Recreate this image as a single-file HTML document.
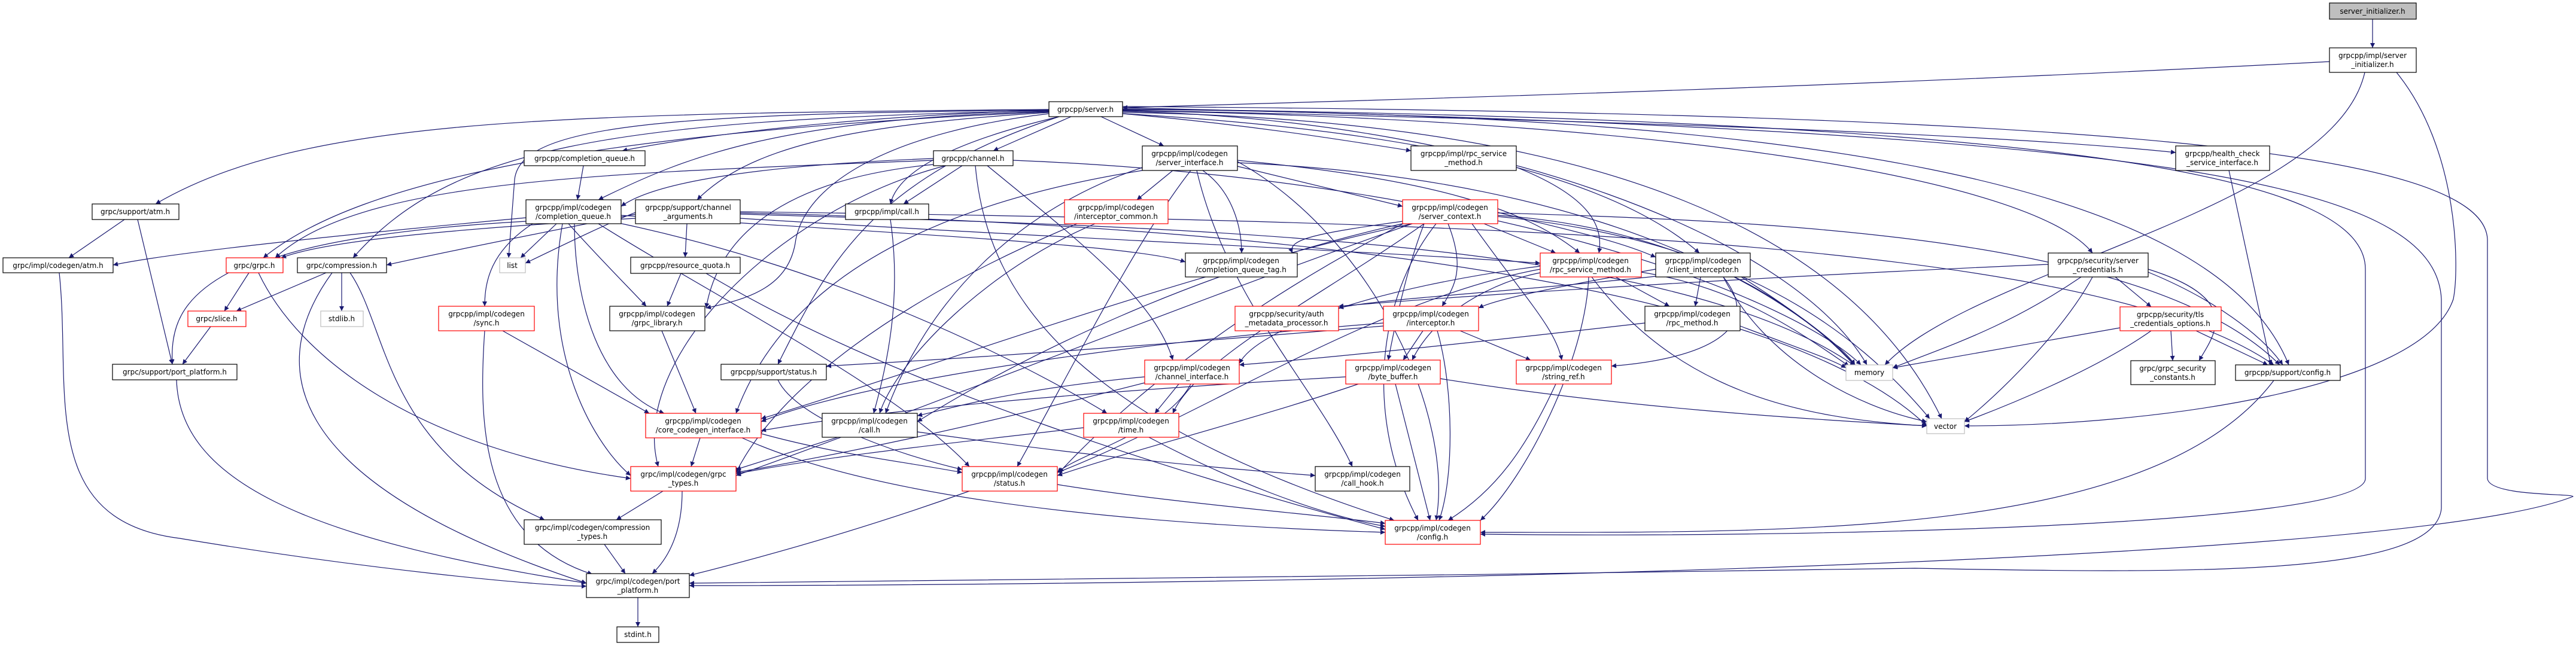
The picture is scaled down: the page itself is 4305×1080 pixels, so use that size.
<!DOCTYPE html>
<html><head><meta charset="utf-8"><style>
html,body{margin:0;padding:0;background:#fff}
svg{display:block}
text{font-family:"DejaVu Sans","Liberation Sans",sans-serif;font-size:12px;fill:#000;text-anchor:middle}
.e path{fill:none;stroke:#191970;stroke-width:1.2;marker-end:url(#a)}
.n rect{fill:#fff;stroke:#000;stroke-width:1.2}
.n rect.r{stroke:#ff0000}
.n rect.g{stroke:#bfbfbf}
</style></head><body>
<svg width="4305" height="1080" viewBox="0 0 4305 1080" xmlns="http://www.w3.org/2000/svg">
<defs><marker id="a" viewBox="0 0 10 10" refX="10" refY="5" markerWidth="10" markerHeight="8" markerUnits="userSpaceOnUse" orient="auto"><path d="M0 0 L10 5 L0 10 z" fill="#191970"/></marker></defs>
<g class="e">
<path d="M3965 32 L3965 80"/>
<path d="M3893 103 C3000 150,2200 170,1876 180"/>
<path d="M3952 121 C3900 350,3300 450,3150 610"/>
<path d="M4005 121 C4110 250,4110 450,4100 500 C4050 650,3600 712,3283 712"/>
<path d="M1876 178 C3500 190,4150 250,4157 400 L4157 800 C4160 830,4300 825,4300 830 C4000 950,2000 979,1152 979"/>
<path d="M1876 182 C3500 200,3953 300,3953 450 L3953 800 C3953 880,3000 900,2474 893"/>
<path d="M1876 180 C3600 220,4070 300,4080 500 L4080 850 C4070 960,3700 960,3200 950 C2500 960,1500 975,1152 975"/>
<path d="M1753 184 C1400 195,1150 230,1040 252"/>
<path d="M1790 195 L1660 252"/>
<path d="M1840 195 L1945 244"/>
<path d="M1876 190 C2100 210,2250 235,2358 252"/>
<path d="M1876 184 C2600 200,3300 220,3636 255"/>
<path d="M1753 183 C900 190,500 200,260 341"/>
<path d="M1753 186 C1300 200,1150 260,1000 334"/>
<path d="M1753 188 C1400 210,1250 250,1165 334"/>
<path d="M1770 195 C1580 240,1500 290,1488 341"/>
<path d="M1753 185 C1000 200,750 250,590 431"/>
<path d="M1753 184 C1100 190,870 210,860 300 L850 431"/>
<path d="M1753 190 C1500 220,1350 300,1330 400 C1320 480,1250 500,1180 515"/>
<path d="M1770 195 C1450 300,1380 450,1300 609"/>
<path d="M1876 186 C2500 200,3000 400,3120 610"/>
<path d="M1876 188 C2700 200,3100 400,3245 700"/>
<path d="M1876 185 C2800 200,3400 300,3497 423"/>
<path d="M1876 183 C3000 190,3700 300,3825 610"/>
<path d="M1876 190 C2400 220,2700 300,2840 423"/>
<path d="M1753 187 C1000 220,600 300,440 431"/>
<path d="M975 277 L965 334"/>
<path d="M1560 265 C1300 275,1100 300,1038 345"/>
<path d="M1560 268 C1000 290,600 300,460 431"/>
<path d="M1608 277 L1510 341"/>
<path d="M1560 275 C1300 300,1200 400,1180 515"/>
<path d="M1650 277 C1800 400,1930 500,1960 602"/>
<path d="M1693 268 C2500 300,3000 500,3110 610"/>
<path d="M1630 277 C1650 500,1800 700,2330 870"/>
<path d="M1580 277 C1300 350,1050 600,1100 780"/>
<path d="M1960 285 L1900 334"/>
<path d="M2068 278 L2344 345"/>
<path d="M2010 285 C2060 320,2075 380,2075 423"/>
<path d="M2068 268 C2400 300,2550 350,2640 423"/>
<path d="M1909 280 C1700 350,1550 500,1480 691"/>
<path d="M1909 285 C1500 350,1300 500,1230 691"/>
<path d="M1990 285 C1900 400,1800 600,1700 780"/>
<path d="M2000 285 C2050 500,2200 650,2260 780"/>
<path d="M2068 270 C2300 400,2430 700,2400 870"/>
<path d="M2068 272 C2700 300,3000 500,3100 610"/>
<path d="M879 364 C600 390,300 420,189 443"/>
<path d="M879 370 C700 380,550 400,460 431"/>
<path d="M930 374 L870 431"/>
<path d="M890 374 C820 420,810 470,810 512"/>
<path d="M950 374 C1000 430,1050 480,1080 512"/>
<path d="M960 374 C960 500,1000 650,1110 691"/>
<path d="M1000 374 C1200 500,1500 650,1620 780"/>
<path d="M1030 372 C1400 450,1700 600,1850 691"/>
<path d="M940 374 C900 600,1000 750,1054 795"/>
<path d="M1038 360 C1500 390,1900 410,1981 438"/>
<path d="M1062 355 C1000 380,920 420,878 440"/>
<path d="M1062 358 C900 390,750 420,646 443"/>
<path d="M1148 374 L1145 430"/>
<path d="M1062 365 C800 380,550 400,470 431"/>
<path d="M1237 358 C2000 380,2800 400,3100 612"/>
<path d="M1237 356 C2300 380,3000 500,3220 712"/>
<path d="M1237 354 C2500 370,3500 400,3800 610"/>
<path d="M1237 365 C1800 400,2300 420,2574 440"/>
<path d="M1138 457 L1115 512"/>
<path d="M1180 457 C1500 650,2000 800,2315 885"/>
<path d="M416 456 L375 520"/>
<path d="M382 456 C300 500,285 550,288 609"/>
<path d="M432 456 C500 600,700 750,1054 800"/>
<path d="M545 456 L395 520"/>
<path d="M571 456 L571 520"/>
<path d="M555 456 C450 600,450 800,980 975"/>
<path d="M585 456 C650 550,640 750,910 869"/>
<path d="M352 546 L305 609"/>
<path d="M208 367 L115 431"/>
<path d="M230 367 L288 609"/>
<path d="M99 456 C120 650,60 870,300 900 C600 950,900 980,980 980"/>
<path d="M295 635 C300 800,500 900,980 975"/>
<path d="M1106 553 L1163 691"/>
<path d="M840 553 L1085 691"/>
<path d="M810 553 C800 700,800 900,990 960"/>
<path d="M1488 367 C1500 450,1500 550,1460 691"/>
<path d="M1830 374 C1650 450,1500 600,1470 691"/>
<path d="M1800 374 C1500 500,1300 650,1230 790"/>
<path d="M2344 370 C2200 390,2150 400,2160 423"/>
<path d="M2480 374 L2600 423"/>
<path d="M2503 355 C2600 380,2700 400,2767 430"/>
<path d="M2420 374 C2450 450,2430 480,2410 512"/>
<path d="M2460 374 C2550 500,2600 550,2610 602"/>
<path d="M2344 374 C2000 450,1700 600,1533 705"/>
<path d="M2345 374 C2100 500,1900 650,1770 790"/>
<path d="M2400 374 C2300 500,2280 700,2370 870"/>
<path d="M2360 374 C2000 500,1500 700,1230 795"/>
<path d="M2360 374 C2000 450,1600 600,1272 700"/>
<path d="M2380 374 C2200 500,2000 600,1960 691"/>
<path d="M2503 360 C2800 380,3000 500,3100 612"/>
<path d="M2503 362 C2900 400,3100 550,3225 700"/>
<path d="M2503 356 C3000 370,3600 400,3810 610"/>
<path d="M2380 374 C2350 450,2330 550,2320 602"/>
<path d="M2535 280 C2660 330,2680 380,2672 423"/>
<path d="M2700 463 L2790 512"/>
<path d="M2574 456 C2500 470,2400 520,2360 602"/>
<path d="M2655 463 C2650 600,2550 800,2474 870"/>
<path d="M2743 455 C2900 480,3000 550,3090 612"/>
<path d="M2660 463 C2800 650,3000 700,3220 712"/>
<path d="M2574 450 C2300 500,2000 700,1767 790"/>
<path d="M2574 445 C2300 480,2100 550,2071 608"/>
<path d="M2767 450 C2600 480,2500 500,2471 515"/>
<path d="M2842 463 L2833 512"/>
<path d="M2880 463 C2950 550,2850 600,2693 612"/>
<path d="M2910 463 C3000 520,3080 580,3100 610"/>
<path d="M2880 463 C2950 600,3100 680,3220 705"/>
<path d="M2767 462 C2500 490,2300 500,2237 515"/>
<path d="M3423 442 C3000 460,2500 490,2237 512"/>
<path d="M2378 553 L2345 602"/>
<path d="M2440 553 L2558 602"/>
<path d="M2402 553 C2430 650,2430 800,2405 870"/>
<path d="M2312 540 C1800 580,1400 650,1272 705"/>
<path d="M2312 545 C1900 580,1600 600,1381 612"/>
<path d="M2749 540 C2400 580,2200 600,2071 610"/>
<path d="M2908 545 C3000 580,3060 600,3085 615"/>
<path d="M2270 642 C2100 700,1900 750,1767 795"/>
<path d="M2332 642 L2390 870"/>
<path d="M2407 633 C2700 680,3000 700,3220 712"/>
<path d="M2249 630 C1900 650,1500 680,1272 720"/>
<path d="M2600 642 C2550 750,2500 820,2420 870"/>
<path d="M1913 630 C1700 650,1600 680,1533 695"/>
<path d="M1970 642 L1930 691"/>
<path d="M1990 642 C1950 720,1800 760,1767 790"/>
<path d="M1913 640 C1600 720,1400 760,1230 790"/>
<path d="M1170 732 L1155 780"/>
<path d="M1272 725 C1400 760,1500 770,1608 790"/>
<path d="M1240 732 C1500 850,2000 880,2315 890"/>
<path d="M1400 731 L1230 785"/>
<path d="M1533 722 C1800 760,2000 780,2198 795"/>
<path d="M1811 715 C1600 740,1400 760,1230 792"/>
<path d="M1920 731 C2050 800,2200 860,2315 880"/>
<path d="M1108 821 L1030 869"/>
<path d="M1140 821 C1140 900,1110 940,1090 959"/>
<path d="M1620 821 C1400 900,1200 950,1152 962"/>
<path d="M1767 810 C1950 840,2200 860,2315 875"/>
<path d="M1300 635 C1330 700,1500 760,1608 785"/>
<path d="M1010 910 L1045 959"/>
<path d="M1066 999 L1066 1048"/>
<path d="M3725 285 L3795 610"/>
<path d="M3800 636 C3600 900,3000 890,2474 890"/>
<path d="M3478 463 C3350 550,3250 580,3163 615"/>
<path d="M3497 463 C3450 550,3350 650,3283 705"/>
<path d="M3535 463 L3595 513"/>
<path d="M3590 450 C3750 500,3700 560,3675 603"/>
<path d="M3590 455 C3700 500,3780 560,3815 610"/>
<path d="M3543 548 L3163 615"/>
<path d="M3595 553 C3500 620,3350 680,3283 705"/>
<path d="M3628 553 L3631 603"/>
<path d="M3670 553 L3790 610"/>
</g>
<g class="n">
<rect x="3893" y="5" width="145" height="27" style="fill:#bfbfbf"/><text x="3965" y="23">server_initializer.h</text>
<rect x="3893" y="80" width="145" height="41"/><text x="3965" y="97">grpcpp/impl/server</text><text x="3965" y="112">_initializer.h</text>
<rect x="1753" y="170" width="123" height="25"/><text x="1814" y="187">grpcpp/server.h</text>
<rect x="876" y="252" width="202" height="25"/><text x="977" y="269">grpcpp/completion_queue.h</text>
<rect x="1560" y="252" width="133" height="25"/><text x="1626" y="269">grpcpp/channel.h</text>
<rect x="1909" y="244" width="159" height="41"/><text x="1988" y="261">grpcpp/impl/codegen</text><text x="1988" y="276">/server_interface.h</text>
<rect x="2358" y="244" width="176" height="41"/><text x="2446" y="261">grpcpp/impl/rpc_service</text><text x="2446" y="276">_method.h</text>
<rect x="3636" y="244" width="157" height="41"/><text x="3714" y="261">grpcpp/health_check</text><text x="3714" y="276">_service_interface.h</text>
<rect x="154" y="341" width="145" height="26"/><text x="226" y="358">grpc/support/atm.h</text>
<rect x="879" y="334" width="159" height="40"/><text x="958" y="351">grpcpp/impl/codegen</text><text x="958" y="366">/completion_queue.h</text>
<rect x="1062" y="334" width="175" height="40"/><text x="1150" y="351">grpcpp/support/channel</text><text x="1150" y="366">_arguments.h</text>
<rect x="1413" y="341" width="139" height="26"/><text x="1482" y="358">grpcpp/impl/call.h</text>
<rect class="r" x="1779" y="334" width="173" height="40"/><text x="1865" y="351">grpcpp/impl/codegen</text><text x="1865" y="366">/interceptor_common.h</text>
<rect class="r" x="2344" y="334" width="159" height="40"/><text x="2423" y="351">grpcpp/impl/codegen</text><text x="2423" y="366">/server_context.h</text>
<rect x="1981" y="423" width="187" height="40"/><text x="2074" y="440">grpcpp/impl/codegen</text><text x="2074" y="455">/completion_queue_tag.h</text>
<rect class="r" x="2574" y="423" width="169" height="40"/><text x="2658" y="440">grpcpp/impl/codegen</text><text x="2658" y="455">/rpc_service_method.h</text>
<rect x="2767" y="423" width="158" height="40"/><text x="2846" y="440">grpcpp/impl/codegen</text><text x="2846" y="455">/client_interceptor.h</text>
<rect x="3423" y="423" width="167" height="40"/><text x="3506" y="440">grpcpp/security/server</text><text x="3506" y="455">_credentials.h</text>
<rect x="5" y="431" width="184" height="25"/><text x="97" y="448">grpc/impl/codegen/atm.h</text>
<rect class="r" x="378" y="431" width="95" height="25"/><text x="425" y="448">grpc/grpc.h</text>
<rect x="497" y="431" width="149" height="25"/><text x="571" y="448">grpc/compression.h</text>
<rect class="g" x="835" y="431" width="43" height="25"/><text x="856" y="448">list</text>
<rect x="1054" y="430" width="183" height="27"/><text x="1145" y="448">grpcpp/resource_quota.h</text>
<rect class="r" x="314" y="520" width="97" height="26"/><text x="362" y="537">grpc/slice.h</text>
<rect class="g" x="536" y="520" width="71" height="26"/><text x="571" y="537">stdlib.h</text>
<rect class="r" x="733" y="512" width="160" height="41"/><text x="813" y="529">grpcpp/impl/codegen</text><text x="813" y="544">/sync.h</text>
<rect x="1019" y="512" width="159" height="41"/><text x="1098" y="529">grpcpp/impl/codegen</text><text x="1098" y="544">/grpc_library.h</text>
<rect class="r" x="2064" y="512" width="173" height="41"/><text x="2150" y="529">grpcpp/security/auth</text><text x="2150" y="544">_metadata_processor.h</text>
<rect class="r" x="2312" y="512" width="159" height="41"/><text x="2391" y="529">grpcpp/impl/codegen</text><text x="2391" y="544">/interceptor.h</text>
<rect x="2749" y="512" width="159" height="41"/><text x="2828" y="529">grpcpp/impl/codegen</text><text x="2828" y="544">/rpc_method.h</text>
<rect class="r" x="3543" y="513" width="169" height="40"/><text x="3627" y="530">grpcpp/security/tls</text><text x="3627" y="545">_credentials_options.h</text>
<rect x="188" y="609" width="208" height="26"/><text x="292" y="626">grpc/support/port_platform.h</text>
<rect x="1205" y="609" width="176" height="26"/><text x="1293" y="626">grpcpp/support/status.h</text>
<rect class="r" x="1913" y="602" width="158" height="40"/><text x="1992" y="619">grpcpp/impl/codegen</text><text x="1992" y="634">/channel_interface.h</text>
<rect class="r" x="2249" y="602" width="158" height="40"/><text x="2328" y="619">grpcpp/impl/codegen</text><text x="2328" y="634">/byte_buffer.h</text>
<rect class="r" x="2534" y="602" width="159" height="40"/><text x="2613" y="619">grpcpp/impl/codegen</text><text x="2613" y="634">/string_ref.h</text>
<rect class="g" x="3085" y="610" width="78" height="26"/><text x="3124" y="627">memory</text>
<rect x="3561" y="603" width="141" height="40"/><text x="3631" y="620">grpc/grpc_security</text><text x="3631" y="635">_constants.h</text>
<rect x="3736" y="610" width="175" height="26"/><text x="3823" y="627">grpcpp/support/config.h</text>
<rect class="r" x="1079" y="691" width="193" height="41"/><text x="1175" y="708">grpcpp/impl/codegen</text><text x="1175" y="723">/core_codegen_interface.h</text>
<rect x="1374" y="691" width="159" height="40"/><text x="1453" y="708">grpcpp/impl/codegen</text><text x="1453" y="723">/call.h</text>
<rect class="r" x="1811" y="691" width="159" height="40"/><text x="1890" y="708">grpcpp/impl/codegen</text><text x="1890" y="723">/time.h</text>
<rect class="g" x="3220" y="700" width="63" height="25"/><text x="3251" y="717">vector</text>
<rect class="r" x="1054" y="780" width="176" height="41"/><text x="1142" y="797">grpc/impl/codegen/grpc</text><text x="1142" y="812">_types.h</text>
<rect class="r" x="1608" y="780" width="159" height="41"/><text x="1687" y="797">grpcpp/impl/codegen</text><text x="1687" y="812">/status.h</text>
<rect x="2198" y="780" width="158" height="41"/><text x="2277" y="797">grpcpp/impl/codegen</text><text x="2277" y="812">/call_hook.h</text>
<rect x="876" y="869" width="229" height="41"/><text x="990" y="886">grpc/impl/codegen/compression</text><text x="990" y="901">_types.h</text>
<rect class="r" x="2315" y="870" width="159" height="40"/><text x="2394" y="887">grpcpp/impl/codegen</text><text x="2394" y="902">/config.h</text>
<rect x="980" y="959" width="172" height="40"/><text x="1066" y="976">grpc/impl/codegen/port</text><text x="1066" y="991">_platform.h</text>
<rect x="1031" y="1048" width="70" height="26"/><text x="1066" y="1065">stdint.h</text>
</g>
</svg>
</body></html>
